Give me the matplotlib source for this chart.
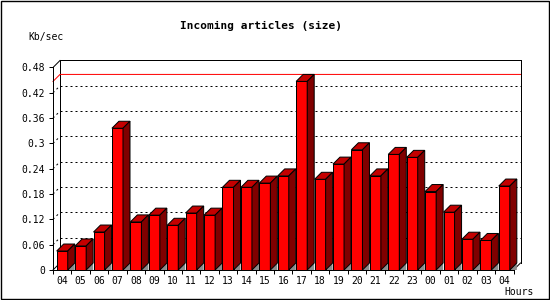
import matplotlib
matplotlib.use('Agg')
import matplotlib.pyplot as plt
from matplotlib.patches import Polygon, Rectangle

# ---- data ----
hours = ['04', '05', '06', '07', '08', '09', '10', '11', '12', '13', '14', '15',
         '16', '17', '18', '19', '20', '21', '22', '23', '00', '01', '02', '03', '04']
values = [0.045, 0.057, 0.090, 0.336, 0.114, 0.130, 0.106, 0.135, 0.130, 0.196,
          0.196, 0.206, 0.223, 0.447, 0.215, 0.251, 0.285, 0.223, 0.274, 0.267,
          0.186, 0.137, 0.073, 0.070, 0.199]
yticks = [0, 0.06, 0.12, 0.18, 0.24, 0.30, 0.36, 0.42, 0.48]
ytick_labels = ['0', '0.06', '0.12', '0.18', '0.24', '0.3', '0.36', '0.42', '0.48']
title = 'Incoming articles (size)'
ylabel = 'Kb/sec'
xlabel = 'Hours'

# ---- style ----
W, H = 550, 300
DEPTH_PX = 7
BAR_W = 0.6
PX = 0.72  # one pixel in points
FRONT, TOP, SIDE, FLOOR = '#ff0000', '#c40000', '#800000', '#8c8c8c'
MONO = 'DejaVu Sans Mono'

fig = plt.figure(figsize=(W / 100, H / 100), dpi=100)
fig.patch.set_facecolor('white')
ax_left, ax_right, ax_bottom, ax_top = 53, 513.5, 30, 232.5
ax = fig.add_axes([ax_left / W, ax_bottom / H, (ax_right - ax_left) / W, (ax_top - ax_bottom) / H])
ax.set_facecolor('none')

n = len(values)
x0, x1 = -0.5, n - 0.5
ymax = yticks[-1]
ax.set_xlim(x0, x1)
ax.set_ylim(0, ymax)

dx = DEPTH_PX * (x1 - x0) / (ax_right - ax_left)
dy = DEPTH_PX * ymax / (ax_top - ax_bottom)

dash = (0, (2, 3))
# back wall grid lines + left wall diagonals
for v in yticks[1:-1]:
    ax.plot([x0 + dx, x1 + dx], [v + dy, v + dy], color='black', lw=PX, ls=dash,
            clip_on=False, zorder=1)
    ax.plot([x0, x0 + dx], [v, v + dy], color='black', lw=PX, ls=dash,
            clip_on=False, zorder=1)

# max line
maxv = max(values)
ax.plot([x0, x0 + dx, x1 + dx], [maxv, maxv + dy, maxv + dy], color='red', lw=PX,
        clip_on=False, zorder=1.5)

# frame lines
frame_kw = dict(color='black', lw=PX, clip_on=False, zorder=1.2, solid_capstyle='projecting')
ax.plot([x0 + dx, x0 + dx], [dy, ymax + dy], **frame_kw)
ax.plot([x0 + dx, x1 + dx], [ymax + dy, ymax + dy], **frame_kw)
ax.plot([x1 + dx, x1 + dx], [dy, ymax + dy], **frame_kw)
ax.plot([x0, x0 + dx], [ymax, ymax + dy], **frame_kw)
ax.plot([x1, x1 + dx], [0, dy], **frame_kw)
ax.plot([x0, x0 + dx], [0, dy], **frame_kw)

# bars: front faces
xs = list(range(n))
ax.bar(xs, values, width=BAR_W, color=FRONT, edgecolor='black', linewidth=PX,
       zorder=3, clip_on=False)
for i, v in enumerate(values):
    l, r = i - BAR_W / 2, i + BAR_W / 2
    ax.add_patch(Polygon([(r, 0), (r + dx, dy), (r + dx, 0)], closed=True,
                         facecolor=FLOOR, edgecolor='none', zorder=2, clip_on=False))
    ax.add_patch(Polygon([(l, v), (r, v), (r + dx, v + dy), (l + dx, v + dy)], closed=True,
                         facecolor=TOP, edgecolor='black', lw=PX, zorder=3, clip_on=False))
    ax.add_patch(Polygon([(r, 0), (r + dx, dy), (r + dx, v + dy), (r, v)], closed=True,
                         facecolor=SIDE, edgecolor='black', lw=PX, zorder=3, clip_on=False))

# axes / ticks
for s in ['top', 'right']:
    ax.spines[s].set_visible(False)
for s in ['left', 'bottom']:
    ax.spines[s].set_linewidth(PX)
    ax.spines[s].set_zorder(4)

ax.set_yticks(yticks, ytick_labels)
ax.tick_params(axis='y', length=2.9, width=PX, pad=2.9, labelsize=7)
ax.set_xticks(xs, hours)
ax.set_xticks([x0 + k for k in range(n + 1)], minor=True)
ax.tick_params(axis='x', which='major', length=0, pad=4.0, labelsize=7)
ax.tick_params(axis='x', which='minor', length=2.9, width=PX)
for lab in ax.get_xticklabels() + ax.get_yticklabels():
    lab.set_family(MONO)

fig.text(261 / W, 1 - 26 / H, title, ha='center', va='center', family=MONO,
         weight='bold', size=8)
fig.text(28 / W, 1 - 37 / H, ylabel, ha='left', va='center', family=MONO, size=7)
fig.text(534 / W, 1 - 292 / H, xlabel, ha='right', va='center', family=MONO, size=7)

# outer border
fig.add_artist(Rectangle((0.5 / W, 1.5 / H), 548 / W, 298 / H, transform=fig.transFigure,
                         fill=False, edgecolor='black', lw=1.0))

fig.savefig('out.png', dpi=100)
